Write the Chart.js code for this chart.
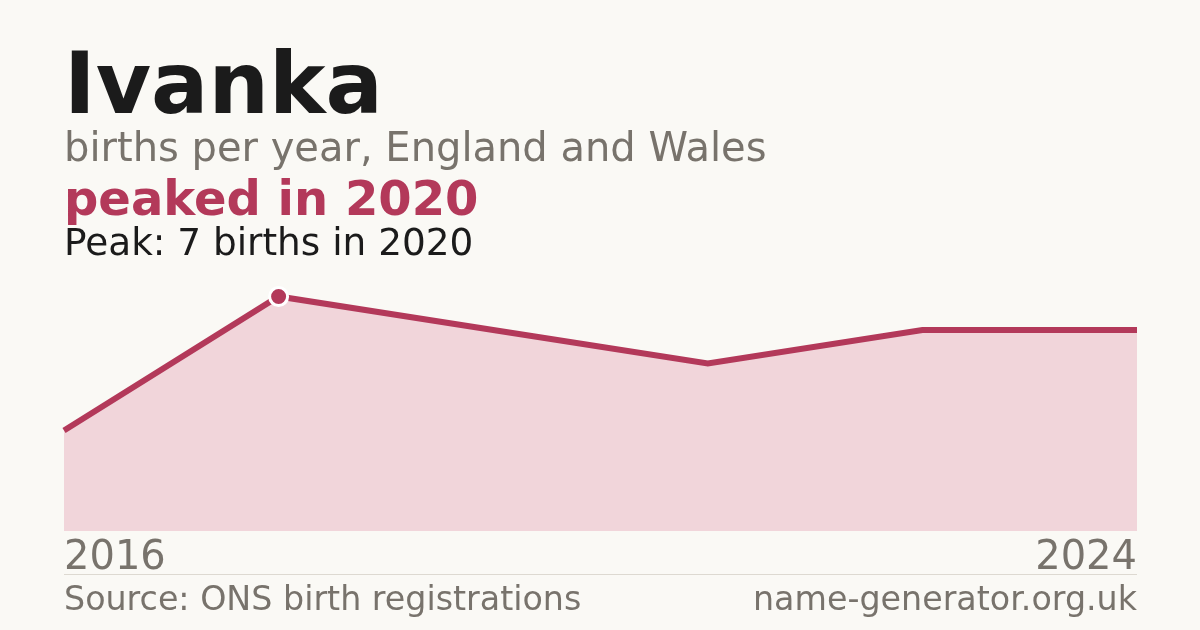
<!DOCTYPE html>
<html>
<head>
<meta charset="utf-8">
<script src="https://cdn.jsdelivr.net/npm/chart.js@4.4.1/dist/chart.umd.min.js"></script>
<style>
  html, body { margin: 0; padding: 0; }
  body { width: 1200px; height: 630px; background: #faf9f5; position: relative; overflow: hidden; font-family: "DejaVu Sans", sans-serif; }
  .t { position: absolute; left: 64px; line-height: 1; white-space: nowrap; }
  #title { top: 41px; font-size: 85px; font-weight: bold; color: #1b1b1b; }
  #sub { top: 127px; font-size: 40px; color: #78736c; }
  #peaked { top: 174px; font-size: 48px; font-weight: bold; color: #b3395a; }
  #peak { top: 224px; font-size: 37.4px; color: #1b1b1b; }
  #rule { position: absolute; left: 64px; width: 1073px; top: 574px; height: 1px; background: #ddd9d1; }
  #src { top: 582px; font-size: 33.3px; color: #78736c; }
  #site { top: 582px; left: auto; right: 63px; font-size: 33.3px; color: #78736c; }
  #wrap { position: absolute; left: 0; top: 0; width: 1200px; height: 630px; }
</style>
</head>
<body>
<div id="wrap"><canvas id="c" width="1200" height="630"></canvas></div>
<div class="t" id="title">Ivanka</div>
<div class="t" id="sub">births per year, England and Wales</div>
<div class="t" id="peaked">peaked in 2020</div>
<div class="t" id="peak">Peak: 7 births in 2020</div>
<div id="rule"></div>
<div class="t" id="src">Source: ONS birth registrations</div>
<div class="t" id="site">name-generator.org.uk</div>
<script>
const years = ['2016', '2020', '2021', '2022', '2023', '2024'];
const births = [3, 7, 6, 5, 6, 6];
const yMin = 0;
const yMax = 8;

const peakValue = Math.max(...births);
const RED = '#b3395a';

new Chart(document.getElementById('c'), {
  type: 'line',
  data: {
    labels: years,
    datasets: [{
      data: births,
      borderColor: RED,
      borderWidth: 6,
      backgroundColor: '#f1d5da',
      fill: 'origin',
      tension: 0,
      pointRadius: births.map(v => v === peakValue ? 9 : 0),
      pointHoverRadius: 0,
      pointBackgroundColor: RED,
      pointBorderColor: '#ffffff',
      pointBorderWidth: 3
    }]
  },
  options: {
    responsive: false,
    maintainAspectRatio: false,
    animation: false,
    devicePixelRatio: 1,
    events: [],
    layout: { padding: { left: 64, right: 63, top: 263, bottom: 43 } },
    plugins: { legend: { display: false }, tooltip: { enabled: false } },
    scales: {
      x: {
        offset: false,
        grid: { display: false, drawTicks: false },
        border: { display: false },
        ticks: {
          autoSkip: false,
          maxRotation: 0,
          align: 'inner',
          padding: 4,
          color: '#78736c',
          font: { family: 'DejaVu Sans', size: 40 },
          callback: function (val, i) { return (i === 0 || i === years.length - 1) ? years[i] : ''; }
        }
      },
      y: {
        display: false,
        min: yMin,
        max: yMax
      }
    }
  }
});
</script>
</body>
</html>
